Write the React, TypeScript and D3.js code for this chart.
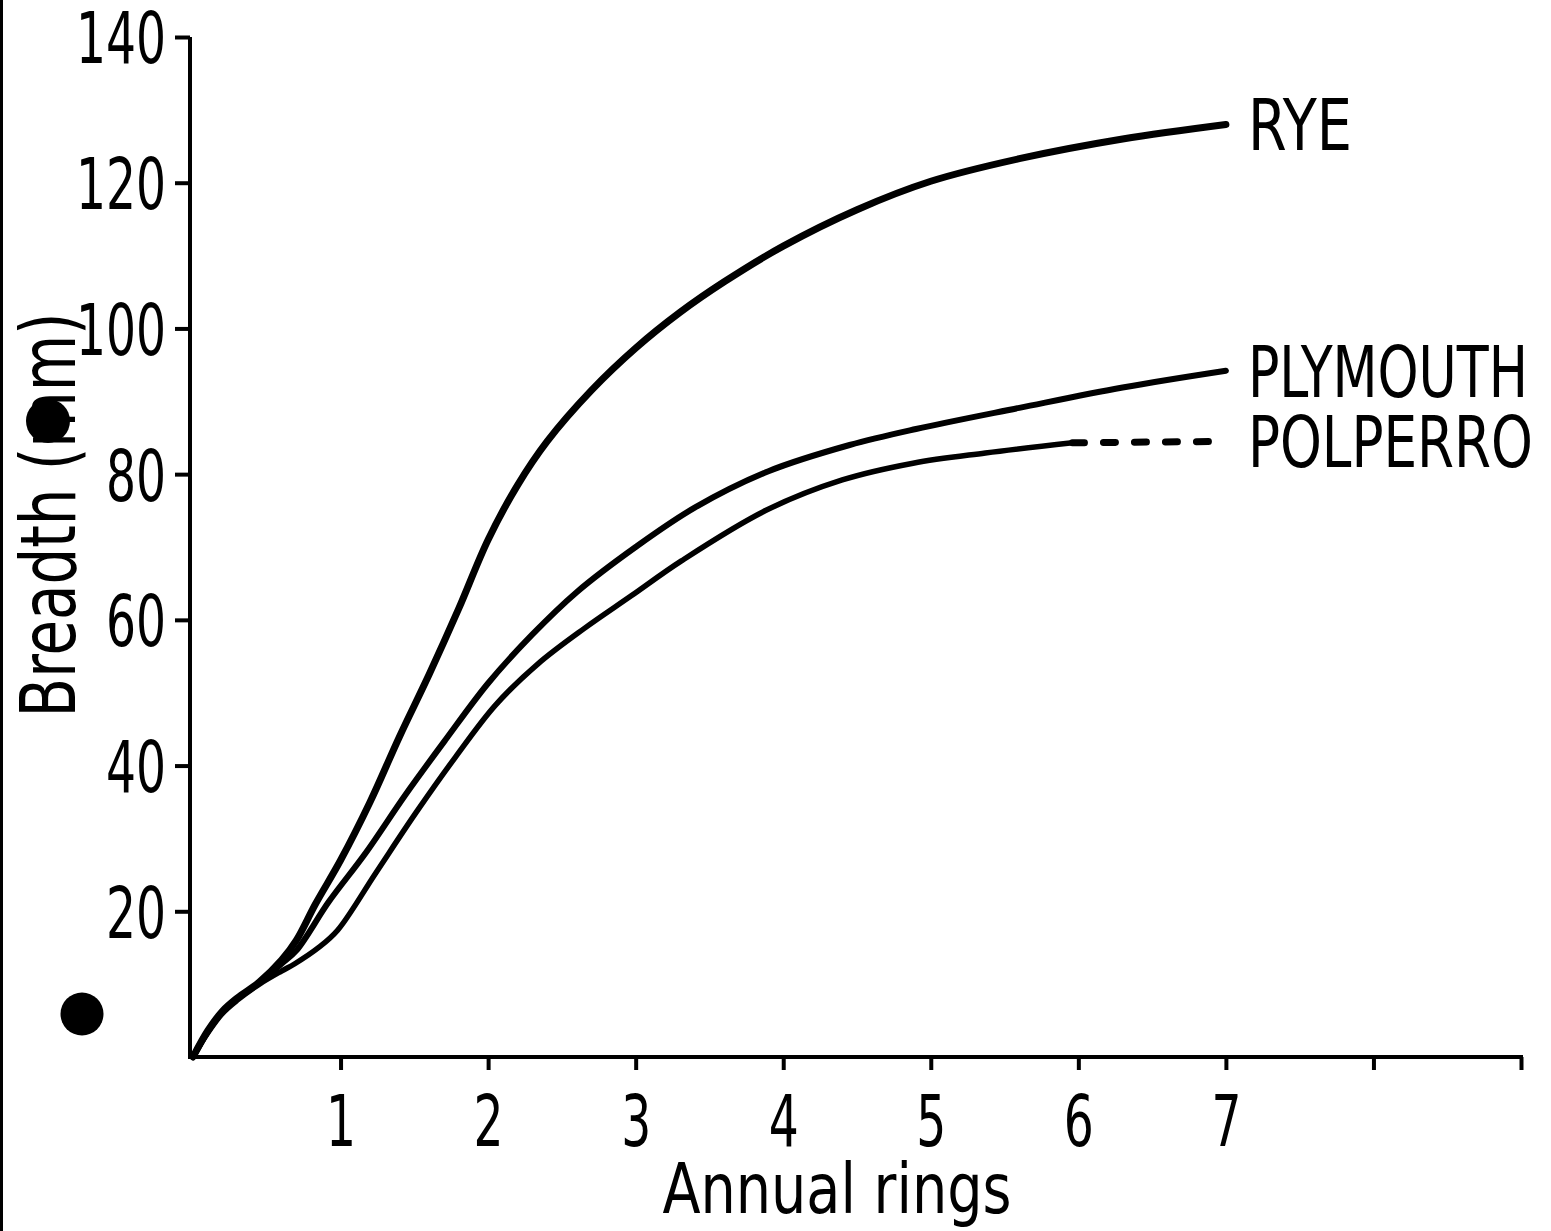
import * as d3 from "d3";
import React, { useRef, useEffect } from "react";

// growth curves: [annual rings, breadth in mm]
const ryeData: [number, number][] = [
  [0, 0], [0.1, 3.6], [0.2, 6.3], [0.3, 8.1], [0.45, 10.3], [0.6, 13.3], [0.7, 16],
  [0.83, 21], [1, 27], [1.2, 35], [1.4, 44], [1.6, 52.5], [1.8, 61.5], [2, 71],
  [2.2, 78.5], [2.4, 84.5], [2.7, 91.5], [3, 97.3], [3.3, 102.2], [3.6, 106.4], [4, 111.3],
  [4.5, 116.3], [5, 120.2], [5.6, 123.3], [6.3, 126], [7, 128],
];

const plymouthData: [number, number][] = [
  [0, 0], [0.1, 3.5], [0.2, 6.2], [0.3, 8], [0.45, 10.2], [0.6, 12.8], [0.7, 14.6],
  [0.92, 21.3], [1.17, 28], [1.44, 36], [1.71, 43.5], [2, 51.3], [2.3, 58],
  [2.6, 63.8], [3, 70], [3.4, 75.4], [3.9, 80.4], [4.45, 84],
  [4.9, 86.2], [5.6, 89.1], [6.3, 91.9], [7, 94.2],
];

const polperroData: [number, number][] = [
  [0, 0], [0.1, 3.3], [0.2, 6], [0.3, 7.8], [0.45, 10], [0.6, 11.8], [0.69, 12.8],
  [0.85, 15], [0.98, 17.4], [1.24, 25.3], [1.51, 33.5], [1.78, 41.2], [2.05, 48.3],
  [2.34, 54], [2.65, 58.8], [2.97, 63.3], [3.31, 68.1], [3.88, 75], [4.4, 79.2],
  [4.88, 81.5], [5.37, 82.9], [5.96, 84.3],
];

// extrapolated part of Polperro, drawn dashed
const polperroDashed: [number, number][] = [[5.96, 84.3], [7, 84.5]];

const yTicks = [20, 40, 60, 80, 100, 120, 140];
const xTicks = [1, 2, 3, 4, 5, 6, 7, 8, 9];
const xTickLabels = ["1", "2", "3", "4", "5", "6", "7", "", ""];

const seriesLabels = [
  { name: "RYE", last: ryeData[ryeData.length - 1], len: 104 },
  { name: "PLYMOUTH", last: plymouthData[plymouthData.length - 1], len: 280 },
  { name: "POLPERRO", last: polperroDashed[polperroDashed.length - 1], len: 285 },
];

const App = () => {
  const svgRef = useRef<HTMLDivElement>(null);

  useEffect(() => {
    const width = 1551;
    const height = 1231;
    const font = "'DejaVu Sans Condensed', 'DejaVu Sans', sans-serif";
    const axisX = 190;

    const x = d3.scaleLinear().domain([0, 9]).range([193, 1521]);
    const y = d3.scaleLinear().domain([0, 140]).range([1057, 37]);

    const svg = d3.create("svg")
      .attr("width", width)
      .attr("height", height)
      .attr("viewBox", `0 0 ${width} ${height}`)
      .style("position", "absolute")
      .style("left", "0px")
      .style("top", "0px")
      .style("background", "#fff");

    // scan edge on the left
    svg.append("rect").attr("x", 0).attr("y", 0).attr("width", 3).attr("height", height).attr("fill", "#000");

    // y axis
    svg.append("line")
      .attr("x1", axisX).attr("x2", axisX)
      .attr("y1", y(0)).attr("y2", y(140))
      .attr("stroke", "#000").attr("stroke-width", 4);

    svg.append("g")
      .attr("transform", `translate(${axisX},0)`)
      .call(d3.axisLeft(y).tickValues(yTicks).tickSize(15).tickPadding(9).tickFormat(d3.format("d")))
      .call(g => g.select(".domain").remove())
      .call(g => g.selectAll(".tick line").attr("stroke", "#000").attr("stroke-width", 4))
      .call(g => g.selectAll<SVGTextElement, number>(".tick text")
        .attr("fill", "#000")
        .attr("dy", "0.36em")
        .attr("textLength", d => String(d).length * 30)
        .attr("lengthAdjust", "spacingAndGlyphs")
        .style("font-family", font)
        .style("font-size", "72px"));

    // x axis
    svg.append("line")
      .attr("x1", axisX - 2).attr("x2", x(9) + 2)
      .attr("y1", y(0)).attr("y2", y(0))
      .attr("stroke", "#000").attr("stroke-width", 4);

    svg.append("g")
      .attr("transform", `translate(0,${y(0)})`)
      .call(d3.axisBottom(x).tickValues(xTicks).tickSize(13).tickPadding(24)
        .tickFormat((d, i) => xTickLabels[i]))
      .call(g => g.select(".domain").remove())
      .call(g => g.selectAll(".tick line").attr("stroke", "#000").attr("stroke-width", 4))
      .call(g => g.selectAll(".tick text")
        .attr("fill", "#000")
        .attr("dy", "0.72em")
        .attr("textLength", 30)
        .attr("lengthAdjust", "spacingAndGlyphs")
        .style("font-family", font)
        .style("font-size", "72px"));

    // axis titles
    svg.append("text")
      .attr("x", 837).attr("y", 1213)
      .attr("text-anchor", "middle")
      .attr("textLength", 349).attr("lengthAdjust", "spacingAndGlyphs")
      .style("font-family", font).style("font-size", "70px")
      .text("Annual rings");

    svg.append("text")
      .attr("transform", "translate(75,515) rotate(-90)")
      .attr("text-anchor", "middle")
      .attr("textLength", 405).attr("lengthAdjust", "spacingAndGlyphs")
      .style("font-family", font).style("font-size", "76px")
      .text("Breadth (mm)");

    // curves
    const line = d3.line<[number, number]>()
      .x(d => x(d[0]))
      .y(d => y(d[1]))
      .curve(d3.curveCatmullRom.alpha(0.5));

    const curves = [
      { data: ryeData, w: 7, dash: null },
      { data: plymouthData, w: 6, dash: null },
      { data: polperroData, w: 5.5, dash: null },
      { data: polperroDashed, w: 7, dash: "12 19" },
    ];

    svg.append("g")
      .selectAll("path")
      .data(curves)
      .join("path")
      .attr("d", d => line(d.data))
      .attr("fill", "none")
      .attr("stroke", "#000")
      .attr("stroke-width", d => d.w)
      .attr("stroke-linecap", "round")
      .attr("stroke-linejoin", "round")
      .attr("stroke-dasharray", d => d.dash);

    // series labels
    svg.append("g")
      .selectAll("text")
      .data(seriesLabels)
      .join("text")
      .attr("x", d => x(d.last[0]) + 22)
      .attr("y", d => y(d.last[1]))
      .attr("dy", "0.36em")
      .attr("textLength", d => d.len)
      .attr("lengthAdjust", "spacingAndGlyphs")
      .style("font-family", font)
      .style("font-size", "72px")
      .text(d => d.name);

    // punch holes of the scanned page
    svg.append("circle").attr("cx", 82).attr("cy", 1014).attr("r", 21.5).attr("fill", "#000");
    svg.append("circle").attr("cx", 48).attr("cy", 421).attr("r", 22).attr("fill", "#000");

    if (svgRef.current) {
      svgRef.current.innerHTML = "";
      svgRef.current.appendChild(svg.node()!);
    }
  }, []);

  return <div ref={svgRef}></div>;
};

export default App;
